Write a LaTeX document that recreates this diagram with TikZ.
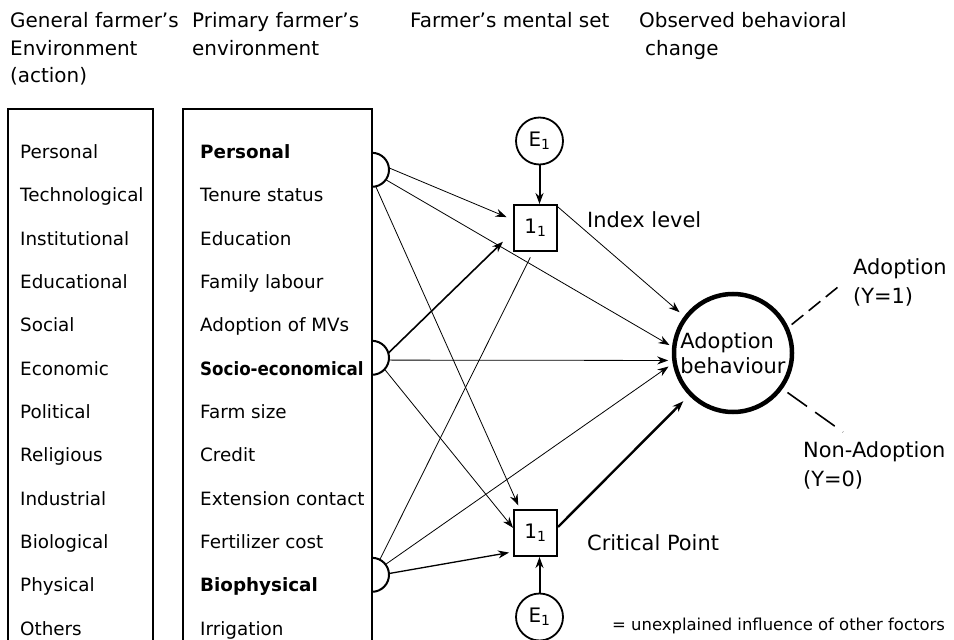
\documentclass[tikz,border=0pt]{standalone}
\usepackage{fontspec}
\setmainfont{DejaVu Sans}
\usetikzlibrary{arrows.meta,calc,positioning}

\begin{document}
\begin{tikzpicture}[x=1bp,y=-1bp,>={Stealth[length=11bp,width=8bp]},
    row/.style={anchor=base west,inner sep=0pt,font=\fontsize{18.4}{22}\selectfont},
    head/.style={anchor=north west,inner sep=0pt,align=left,font=\fontsize{20}{27.5}\selectfont},
    lbl/.style={anchor=north west,inner sep=0pt,align=left,font=\fontsize{21}{29}\selectfont},
    idx/.style={draw,line width=2bp,minimum width=43bp,minimum height=46bp,inner sep=0pt,font=\fontsize{20}{24}\selectfont},
    err/.style={draw,circle,line width=1.8bp,minimum size=47bp,inner sep=0pt,font=\fontsize{20}{24}\selectfont},
    hc/.style={circle,minimum size=34bp,inner sep=0pt},
    fine/.style={->,line width=0.8bp},
    bold/.style={->,line width=2bp}]
  \useasboundingbox (0,0) rectangle (954,640);
  % column headings
  \node[head] (hgen) at (10,12.6) {General farmer's\\Environment\\(action)};
  \node[head] (hprim) at (192,12.6) {Primary farmer's\\environment};
  \node[head] (hment) at (410,12.6) {Farmer's mental set};
  \node[head] (hobs) at (639,12.6) {Observed behavioral\\\hspace*{6bp}change};
  % the two environment columns
  \draw[line width=2bp] (8,650) -- (8,109) -- (153,109) -- (153,650);
  \draw[line width=2bp] (183,650) -- (183,109) -- (372,109) -- (372,650);
  \foreach \t [count=\i from 0] in {Personal,Technological,Institutional,Educational,Social,Economic,Political,Religious,Industrial,Biological,Physical,Others}
    \node[row] (g\i) at (20,{158.7+43.3*\i}) {\t};
  \foreach \t [count=\i from 0] in {\textbf{Personal},Tenure status,Education,Family labour,Adoption of MVs,\scalebox{0.91}[1]{\textbf{Socio-economical}},Farm size,Credit,Extension contact,Fertilizer cost,\textbf{Biophysical},Irrigation}
    \node[row] (p\i) at (200,{158.7+43.3*\i}) {\t};
  % half circles on the primary column
  \foreach \n/\y in {hpers/170,hsoc/358,hbio/575}{
    \node[hc] (\n) at (372,\y) {};
    \draw[line width=2bp] (\n.north) arc[start angle=90,end angle=-90,radius=17bp];
  }
  % mental set and behaviour
  \node[idx] (i1) at (535.5,228) {1\textsubscript{1}};
  \node[idx] (i2) at (535.5,533) {1\textsubscript{1}};
  \node[err] (e1t) at (539.5,141) {E\textsubscript{1}};
  \node[err] (e1b) at (539.5,617) {E\textsubscript{1}};
  \node[circle,draw,line width=4.5bp,minimum size=118bp,inner sep=0pt,align=left,font=\fontsize{21}{25}\selectfont] (ab) at (733,353) {Adoption\\behaviour};
  \node[anchor=west,inner sep=0pt,font=\fontsize{21}{25}\selectfont] (ilvl) at (587,220) {Index level};
  \node[anchor=west,inner sep=0pt,font=\fontsize{21}{25}\selectfont] (crit) at (587,543) {Critical Point};
  \node[anchor=base west,inner sep=0pt,font=\fontsize{16.5}{20}\selectfont] (note) at (612,630) {= unexplained influence of other foctors};
  % Personal
  \draw[fine,shorten >=7bp] (hpers.7) -- (i1.160);
  \draw[fine,shorten >=3bp] (hpers.-35) -- (ab.174);
  \draw[fine,shorten >=4bp] (hpers.-77) -- (i2.123);
  % Socio-economical
  \draw[bold,line width=1.6bp,shorten >=14bp] (hsoc.17) -- (i1.190);
  \draw[fine,shorten >=4bp] (hsoc.-7) -- (ab.187);
  \draw[fine] (hsoc.-42) -- (i2.167);
  % Biophysical
  \draw[fine,line width=1.3bp,shorten >=4bp] (hbio.5) -- (i2.220);
  \draw[fine,shorten >=5bp] (hbio.38) -- (ab.190);
  \draw[line width=0.8bp,shorten >=6bp] (hbio.63) -- (i1.264);
  % mental set to behaviour
  \draw[fine,shorten >=6bp] (i1.43) -- (ab.143);
  \draw[bold,line width=2.4bp,shorten >=8bp] (i2.15) -- (ab.224);
  % unexplained influence
  \draw[bold] (e1t.south) -- (e1t.south |- i1.north);
  \draw[bold] (e1b.north) -- (e1b.north |- i2.south);
  % observed change
  \coordinate (yes) at (838,287);
  \coordinate (no) at (843,432);
  \draw[line width=1.6bp,dash pattern=on 15bp off 7bp,shorten <=4bp] (ab.25) -- (yes);
  \draw[line width=1.6bp,dash pattern=on 24bp off 10bp,shorten <=6bp] (ab.324) -- (no);
  \node[lbl] (ylbl) at (853,258.5) {Adoption\\(Y=1)};
  \node[lbl] (nlbl) at (803,441.5) {Non-Adoption\\(Y=0)};
\end{tikzpicture}
\end{document}
